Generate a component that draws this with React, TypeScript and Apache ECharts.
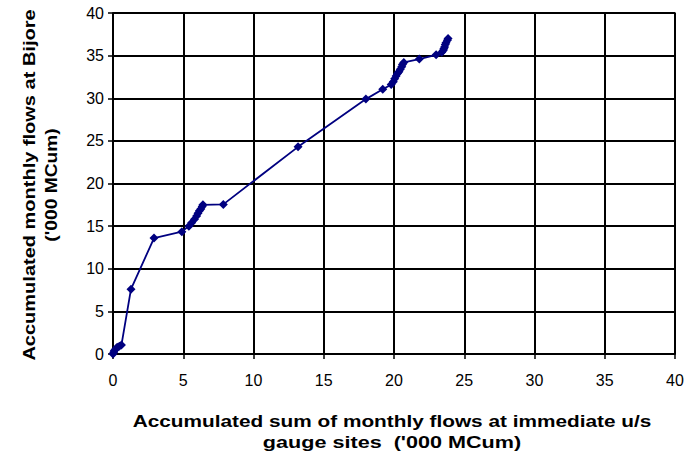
import React, { useEffect, useRef } from "react";
import * as echarts from "echarts";

const xValues: number[] = [
  0, 0.05, 0.1, 0.2, 0.3, 0.45, 0.6,
  1.28, 2.92, 4.9,
  5.4, 5.6, 5.8, 5.95, 6.05, 6.15, 6.25, 6.35, 6.4,
  7.85, 13.17, 18.0, 19.2,
  19.8, 19.95, 20.05, 20.15, 20.25, 20.35, 20.45, 20.55, 20.6, 20.7,
  21.8, 23.0,
  23.4, 23.5, 23.55, 23.6, 23.65, 23.7, 23.8, 23.85,
];
const yValues: number[] = [
  0, 0.2, 0.4, 0.6, 0.8, 0.9, 1.05,
  7.6, 13.6, 14.35,
  15.0, 15.4, 15.8, 16.2, 16.5, 16.8, 17.0, 17.3, 17.5,
  17.55, 24.3, 29.9, 31.05,
  31.6, 31.95, 32.3, 32.6, 32.9, 33.1, 33.4, 33.7, 33.95, 34.2,
  34.6, 35.1,
  35.4, 35.6, 35.8, 36.0, 36.3, 36.5, 36.8, 37.0,
];
const xTicks = { min: 0, max: 40, interval: 5 };
const yTicks = { min: 0, max: 40, interval: 5 };
const yTitle = ["Accumulated monthly flows at Bijore", "('000 MCum)"];
const xTitle = ["Accumulated sum of monthly flows at immediate u/s", "gauge sites  ('000 MCum)"];

export default function App() {
  const ref = useRef<HTMLDivElement>(null);
  useEffect(() => {
    if (!ref.current) return;
    const chart = echarts.init(ref.current, null, { renderer: "svg" });
    const data = xValues.map((x, i) => [x, yValues[i]]);
    const font = "'Liberation Sans', Arial, sans-serif";
    const titleFont = `bold 16px ${font}`;
    chart.setOption({
      animation: false,
      backgroundColor: "#ffffff",
      grid: {
        left: 113,
        top: 13,
        width: 562,
        height: 341,
        show: true,
        borderColor: "#808080",
        borderWidth: 2,
        backgroundColor: "transparent",
      },
      xAxis: {
        type: "value",
        min: xTicks.min,
        max: xTicks.max,
        interval: xTicks.interval,
        axisLine: { show: true, onZero: false, lineStyle: { color: "#000", width: 1.5 } },
        axisTick: { show: true, inside: false, length: 5, lineStyle: { color: "#000", width: 1.5 } },
        axisLabel: { color: "#000", fontSize: 16, fontFamily: font, margin: 18 },
        splitLine: { show: true, lineStyle: { color: "#000", width: 2 } },
      },
      yAxis: {
        type: "value",
        min: yTicks.min,
        max: yTicks.max,
        interval: yTicks.interval,
        axisLine: { show: true, onZero: false, lineStyle: { color: "#000", width: 1.5 } },
        axisTick: { show: true, inside: false, length: 5, lineStyle: { color: "#000", width: 1.5 } },
        axisLabel: { color: "#000", fontSize: 16, fontFamily: font, margin: 9 },
        splitLine: { show: true, lineStyle: { color: "#000", width: 2 } },
      },
      series: [
        {
          type: "line",
          data,
          symbol: "diamond",
          symbolSize: 9,
          showSymbol: true,
          lineStyle: { color: "#000080", width: 1.8 },
          itemStyle: { color: "#000080" },
          z: 5,
        },
      ],
      graphic: [
        {
          type: "text",
          x: 30,
          y: 185,
          rotation: Math.PI / 2,
          scaleX: 1.25,
          style: { text: yTitle[0], font: titleFont, fill: "#000", align: "center", verticalAlign: "middle" },
        },
        {
          type: "text",
          x: 52,
          y: 185,
          rotation: Math.PI / 2,
          scaleX: 1.2,
          style: { text: yTitle[1], font: titleFont, fill: "#000", align: "center", verticalAlign: "middle" },
        },
        {
          type: "text",
          x: 392,
          y: 421,
          scaleX: 1.3,
          style: { text: xTitle[0], font: titleFont, fill: "#000", align: "center", verticalAlign: "middle" },
        },
        {
          type: "text",
          x: 392,
          y: 443,
          scaleX: 1.35,
          style: { text: xTitle[1], font: titleFont, fill: "#000", align: "center", verticalAlign: "middle" },
        },
      ],
    });
    return () => chart.dispose();
  }, []);
  return <div ref={ref} style={{ width: 690, height: 462, position: "absolute", left: 0, top: 0 }} />;
}
